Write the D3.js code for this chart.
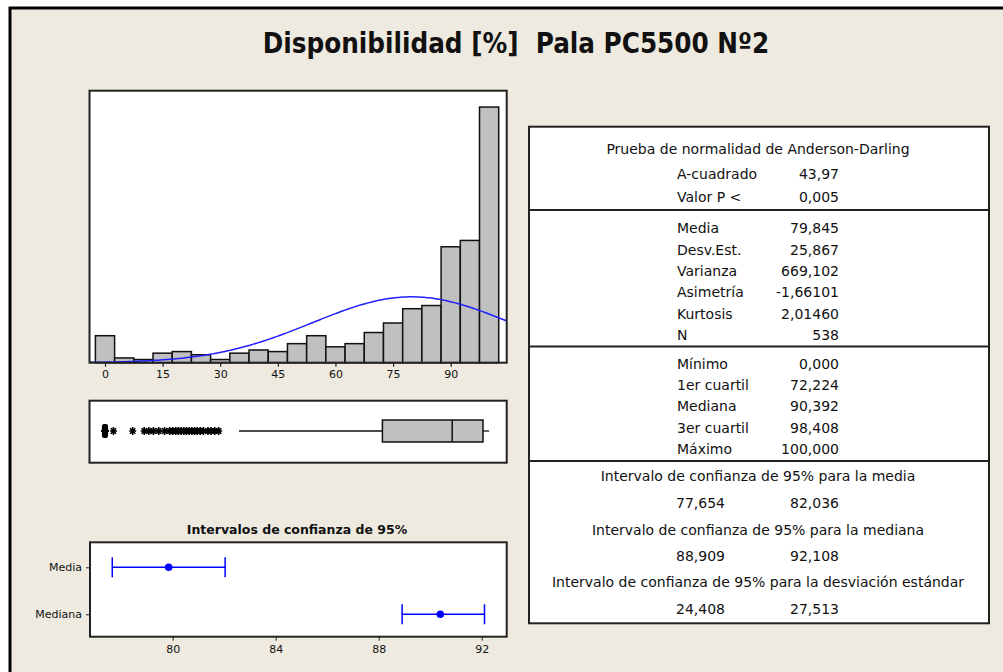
<!DOCTYPE html>
<html>
<head>
<meta charset="utf-8">
<script src="https://cdn.jsdelivr.net/npm/d3@7"></script>
<style>
  body { margin: 0; background: #fff; }
  svg text { font-family: "DejaVu Sans", sans-serif; fill: #111; }
</style>
</head>
<body>
<svg id="chart" width="1003" height="672"></svg>
<script>
var binCenters = [0, 5, 10, 15, 20, 25, 30, 35, 40, 45, 50, 55, 60, 65, 70, 75, 80, 85, 90, 95, 100];
var binCounts  = [17, 3, 2, 6, 7, 5, 2, 6, 8, 7, 12, 17, 10, 12, 19, 25, 34, 36, 73, 77, 161];
var histTicks  = [0, 15, 30, 45, 60, 75, 90];

var media = 79.845, desvEst = 25.867, nObs = 538, binWidth = 5;

// box plot
var boxQ1 = 72.224, boxMedian = 90.392, boxQ3 = 98.408, whiskerLow = 34.9, whiskerHigh = 100;
var outliers = [0, 0, 0, 0, 0, 0, 0, 0, 0, 0, 0, 0, 2.2, 7.2, 10.2, 11.4, 12.6, 14.0, 15.5, 16.8, 17.6, 18.4,
                19.1, 19.8, 20.5, 21.2, 21.9, 22.6, 23.3, 24.0, 24.8, 25.6, 26.8, 27.6, 28.6, 29.6];

// confidence intervals plot
var ciLabels = ["Media", "Mediana"];
var ciLow    = [77.654, 88.909];
var ciMid    = [79.845, 90.392];
var ciHigh   = [82.036, 92.108];
var ciTicks  = [80, 84, 88, 92];

// table
var adLabels = ["A-cuadrado", "Valor P <"];
var adValues = ["43,97", "0,005"];
var momLabels = ["Media", "Desv.Est.", "Varianza", "Asimetría", "Kurtosis", "N"];
var momValues = ["79,845", "25,867", "669,102", "-1,66101", "2,01460", "538"];
var quartLabels = ["Mínimo", "1er cuartil", "Mediana", "3er cuartil", "Máximo"];
var quartValues = ["0,000", "72,224", "90,392", "98,408", "100,000"];
var ciTitles = ["Intervalo de confianza de 95% para la media",
                "Intervalo de confianza de 95% para la mediana",
                "Intervalo de confianza de 95% para la desviación estándar"];
var ciTabLow  = ["77,654", "88,909", "24,408"];
var ciTabHigh = ["82,036", "92,108", "27,513"];

var svg = d3.select("#chart");

// background + window frame
svg.append("rect").attr("x", 0).attr("y", 0).attr("width", 1003).attr("height", 672).attr("fill", "#fff");
svg.append("rect").attr("x", 10).attr("y", 8).attr("width", 1000).attr("height", 670)
    .attr("fill", "#EEEAE0").attr("stroke", "#000").attr("stroke-width", 3);

svg.append("text")
    .attr("x", 516).attr("y", 53)
    .attr("text-anchor", "middle")
    .style("white-space", "pre")
    .style("font-family", "'DejaVu Sans Condensed', 'DejaVu Sans', sans-serif")
    .style("font-weight", "bold")
    .style("font-size", "27.5px")
    .text("Disponibilidad [%]  Pala PC5500 Nº2");

// ---------- histogram ----------
var hx0 = 89.5, hx1 = 506.7, hy0 = 90.7, hy1 = 362.7;
var x = d3.scaleLinear().domain([-4.035, 104.58]).range([hx0, hx1]);
var y = d3.scaleLinear().domain([0, 171.3]).range([hy1, hy0]);

svg.append("rect").attr("x", hx0).attr("y", hy0).attr("width", hx1 - hx0).attr("height", hy1 - hy0)
    .attr("fill", "#fff");

svg.append("clipPath").attr("id", "histclip")
  .append("rect").attr("x", hx0).attr("y", hy0).attr("width", hx1 - hx0).attr("height", hy1 - hy0);

svg.append("g").selectAll("rect")
    .data(binCenters).enter().append("rect")
    .attr("x", function(d) { return x(d - binWidth / 2); })
    .attr("width", function(d) { return x(d + binWidth / 2) - x(d - binWidth / 2); })
    .attr("y", function(d, i) { return y(binCounts[i]); })
    .attr("height", function(d, i) { return y(0) - y(binCounts[i]); })
    .attr("fill", "#C0C0C0")
    .attr("stroke", "#111")
    .attr("stroke-width", 1.5);

// fitted normal (count scale)
var curveX = d3.range(-4.035, 104.6, 0.5);
var normal = function(v) {
  var z = (v - media) / desvEst;
  return nObs * binWidth * Math.exp(-0.5 * z * z) / (desvEst * Math.sqrt(2 * Math.PI));
};
svg.append("path")
    .datum(curveX)
    .attr("clip-path", "url(#histclip)")
    .attr("fill", "none")
    .attr("stroke", "#1f1fff")
    .attr("stroke-width", 1.5)
    .attr("d", d3.line().x(function(d) { return x(d); }).y(function(d) { return y(normal(d)); }));

svg.append("rect").attr("x", hx0).attr("y", hy0).attr("width", hx1 - hx0).attr("height", hy1 - hy0)
    .attr("fill", "none").attr("stroke", "#222").attr("stroke-width", 2);

var hAxis = svg.append("g")
    .attr("transform", "translate(0," + hy1 + ")")
    .call(d3.axisBottom(x).tickValues(histTicks).tickSize(4).tickPadding(4));
hAxis.select(".domain").remove();
hAxis.selectAll("line").attr("stroke", "#222").attr("stroke-width", 1.2);
hAxis.selectAll("text").style("font-size", "11px").attr("fill", "#222").style("font-family", "'DejaVu Sans', sans-serif");

// ---------- box plot ----------
var by0 = 400.7, by1 = 462.7, bcy = 431, bh = 22;
svg.append("rect").attr("x", hx0).attr("y", by0).attr("width", hx1 - hx0).attr("height", by1 - by0)
    .attr("fill", "#fff").attr("stroke", "#222").attr("stroke-width", 2);

svg.append("line").attr("x1", x(whiskerLow)).attr("x2", x(boxQ1)).attr("y1", bcy).attr("y2", bcy)
    .attr("stroke", "#111").attr("stroke-width", 1.3);
svg.append("line").attr("x1", x(boxQ3)).attr("x2", x(whiskerHigh)).attr("y1", bcy).attr("y2", bcy)
    .attr("stroke", "#111").attr("stroke-width", 1.3);
svg.append("rect").attr("x", x(boxQ1)).attr("y", bcy - bh / 2).attr("width", x(boxQ3) - x(boxQ1)).attr("height", bh)
    .attr("fill", "#C0C0C0").attr("stroke", "#111").attr("stroke-width", 1.5);
svg.append("line").attr("x1", x(boxMedian)).attr("x2", x(boxMedian)).attr("y1", bcy - bh / 2).attr("y2", bcy + bh / 2)
    .attr("stroke", "#111").attr("stroke-width", 1.5);

// outliers as asterisks
var star = "M-3.5,0L3.5,0M0,-4L0,4M-2.6,-2.8L2.6,2.8M-2.6,2.8L2.6,-2.8";
svg.append("g").selectAll("path")
    .data(outliers).enter().append("path")
    .attr("transform", function(d) { return "translate(" + x(d) + "," + bcy + ")"; })
    .attr("d", star)
    .attr("stroke", "#000")
    .attr("stroke-width", 1.6);
// the stack of zeros shows as a tall blob
svg.append("rect").attr("x", x(0) - 3).attr("y", bcy - 7).attr("width", 6).attr("height", 14)
    .attr("rx", 2).attr("fill", "#000");

// ---------- CI plot ----------
var cx0 = 90, cx1 = 506.7, cy0 = 542.3, cy1 = 636.7;
var cxs = d3.scaleLinear().domain([76.79, 92.97]).range([cx0, cx1]);
var cys = d3.scalePoint().domain(ciLabels).range([567.3, 614.3]);

svg.append("text")
    .attr("x", 297).attr("y", 534)
    .attr("text-anchor", "middle")
    .style("font-weight", "bold")
    .style("font-size", "12.5px")
    .text("Intervalos de confianza de 95%");

svg.append("rect").attr("x", cx0).attr("y", cy0).attr("width", cx1 - cx0).attr("height", cy1 - cy0)
    .attr("fill", "#fff").attr("stroke", "#222").attr("stroke-width", 2);

var ciG = svg.append("g").selectAll("g").data(ciLabels).enter().append("g");
ciG.append("line")
    .attr("x1", function(d, i) { return cxs(ciLow[i]); })
    .attr("x2", function(d, i) { return cxs(ciHigh[i]); })
    .attr("y1", function(d) { return cys(d); })
    .attr("y2", function(d) { return cys(d); })
    .attr("stroke", "#0000ff").attr("stroke-width", 1.5);
ciG.append("line")
    .attr("x1", function(d, i) { return cxs(ciLow[i]); })
    .attr("x2", function(d, i) { return cxs(ciLow[i]); })
    .attr("y1", function(d) { return cys(d) - 10; })
    .attr("y2", function(d) { return cys(d) + 10; })
    .attr("stroke", "#0000ff").attr("stroke-width", 1.5);
ciG.append("line")
    .attr("x1", function(d, i) { return cxs(ciHigh[i]); })
    .attr("x2", function(d, i) { return cxs(ciHigh[i]); })
    .attr("y1", function(d) { return cys(d) - 10; })
    .attr("y2", function(d) { return cys(d) + 10; })
    .attr("stroke", "#0000ff").attr("stroke-width", 1.5);
ciG.append("circle")
    .attr("cx", function(d, i) { return cxs(ciMid[i]); })
    .attr("cy", function(d) { return cys(d); })
    .attr("r", 3.8)
    .attr("fill", "#0000ff");

var cAxis = svg.append("g")
    .attr("transform", "translate(0," + cy1 + ")")
    .call(d3.axisBottom(cxs).tickValues(ciTicks).tickSize(4).tickPadding(5));
cAxis.select(".domain").remove();
cAxis.selectAll("line").attr("stroke", "#222");
cAxis.selectAll("text").style("font-size", "11px").attr("fill", "#222").style("font-family", "'DejaVu Sans', sans-serif");

var cLeft = svg.append("g")
    .attr("transform", "translate(" + cx0 + ",0)")
    .call(d3.axisLeft(cys).tickSize(4).tickPadding(4));
cLeft.select(".domain").remove();
cLeft.selectAll("line").attr("stroke", "#222");
cLeft.selectAll("text").style("font-size", "11px").attr("fill", "#222").style("font-family", "'DejaVu Sans', sans-serif");

// ---------- summary table ----------
var tx0 = 529, tx1 = 989, ty0 = 126.7, ty1 = 623.3;
svg.append("rect").attr("x", tx0).attr("y", ty0).attr("width", tx1 - tx0).attr("height", ty1 - ty0)
    .attr("fill", "#fff").attr("stroke", "#222").attr("stroke-width", 2);
[210, 346.5, 461].forEach(function(yy) {
  svg.append("line").attr("x1", tx0).attr("x2", tx1).attr("y1", yy).attr("y2", yy)
      .attr("stroke", "#222").attr("stroke-width", 2);
});

var labX = 677, valX = 839, midX = 758, fs = "14px";

function rows(labels, values, yStart, step) {
  labels.forEach(function(l, i) {
    svg.append("text").attr("x", labX).attr("y", yStart + i * step).attr("dy", "0.35em")
        .style("font-size", fs).text(l);
    svg.append("text").attr("x", valX).attr("y", yStart + i * step).attr("dy", "0.35em")
        .attr("text-anchor", "end").style("font-size", fs).text(values[i]);
  });
}

svg.append("text").attr("x", midX).attr("y", 149.3).attr("dy", "0.35em")
    .attr("text-anchor", "middle").style("font-size", fs)
    .text("Prueba de normalidad de Anderson-Darling");
rows(adLabels, adValues, 174.3, 23);
rows(momLabels, momValues, 228.3, 21.4);
rows(quartLabels, quartValues, 364, 21.25);

var ciTitleY = [475.7, 530, 581.7], ciValY = [503.3, 555.7, 609.3];
ciTitles.forEach(function(t, i) {
  svg.append("text").attr("x", midX).attr("y", ciTitleY[i]).attr("dy", "0.35em")
      .attr("text-anchor", "middle").style("font-size", fs).text(t);
  svg.append("text").attr("x", 725).attr("y", ciValY[i]).attr("dy", "0.35em")
      .attr("text-anchor", "end").style("font-size", fs).text(ciTabLow[i]);
  svg.append("text").attr("x", valX).attr("y", ciValY[i]).attr("dy", "0.35em")
      .attr("text-anchor", "end").style("font-size", fs).text(ciTabHigh[i]);
});
</script>
</body>
</html>
